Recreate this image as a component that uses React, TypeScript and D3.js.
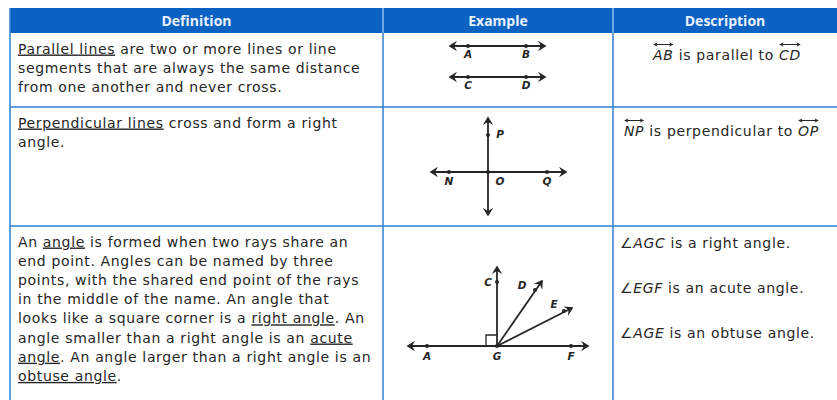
import React, { useLayoutEffect, useRef, useState } from 'react';
import * as d3 from 'd3';

// column headings and their boundaries
const headers = ['Definition', 'Example', 'Description'];
const colEdges = [10, 383, 613, 837];
const rowEdges = [8, 33, 107, 226, 400];

// definition text, one entry per line; [text, underlined] pieces
type Piece = [string, boolean];
const defRow1: Piece[][] = [
  [['Parallel lines', true], [' are two or more lines or line', false]],
  [['segments that are always the same distance', false]],
  [['from one another and never cross.', false]],
];
const defRow2: Piece[][] = [
  [['Perpendicular lines', true], [' cross and form a right', false]],
  [['angle.', false]],
];
const defRow3: Piece[][] = [
  [['An ', false], ['angle', true], [' is formed when two rays share an', false]],
  [['end point. Angles can be named by three', false]],
  [['points, with the shared end point of the rays', false]],
  [['in the middle of the name. An angle that', false]],
  [['looks like a square corner is a ', false], ['right angle', true], ['. An', false]],
  [['angle smaller than a right angle is an ', false], ['acute ', true]],
  [['angle', true], ['. An angle larger than a right angle is an', false]],
  [['obtuse angle', true], ['.', false]],
];
const definitions = [defRow1, defRow2, defRow3];

// descriptions: [text, italic, over-arrow]
type Part = [string, boolean, boolean];
const descRow1: Part[] = [['AB', true, true], [' is parallel to ', false, false], ['CD', true, true]];
const descRow2: Part[] = [['NP', true, true], [' is perpendicular to ', false, false], ['OP', true, true]];
const descRow3: Part[][] = [
  [['\u2220AGC', true, false], [' is a right angle.', false, false]],
  [['\u2220EGF', true, false], [' is an acute angle.', false, false]],
  [['\u2220AGE', true, false], [' is an obtuse angle.', false, false]],
];

// diagram geometry in diagram units (one unit = one pixel)
const parallelLines = [
  { y: 0, pts: [['A', 18], ['B', 76]] },
  { y: 31, pts: [['C', 18], ['D', 76]] },
];
const perpPoints: [string, number, number][] = [['N', -39, 0], ['O', 0, 0], ['Q', 59, 0], ['P', 0, -37]];
const anglePoints: [string, number, number][] = [
  ['A', -70, 0], ['G', 0, 0], ['F', 74, 0], ['C', 0, -64], ['D', 38, -56], ['E', 67, -35],
];

const blue = '#0b62c2';
const lineBlue = '#2f7fd0';
const ink = '#262626';
const bodyFont = '"DejaVu Sans", sans-serif';
const bodySize = 14;
const bodySpacing = 0.65;
const labelFont = '"DejaVu Sans", sans-serif';

function Arrow({ x1, y1, x2, y2, both = true }: any) {
  return (
    <line x1={x1} y1={y1} x2={x2} y2={y2} stroke={ink} strokeWidth={1.8}
      markerEnd="url(#head)" markerStart={both ? 'url(#headStart)' : undefined} />
  );
}

function Dot({ x, y }: any) {
  return <circle cx={x} cy={y} r={2} fill={ink} />;
}

function Label({ x, y, t }: any) {
  return (
    <text x={x} y={y} fontFamily={labelFont} fontStyle="italic" fontSize={10.5}
      fontWeight="bold" fill={ink} textAnchor="middle">{t}</text>
  );
}

// one line of description text; draws a double arrow over flagged parts
function DescLine({ x, y, anchor = 'start', parts }: { x: number; y: number; anchor?: string; parts: Part[] }) {
  const ref = useRef<SVGTextElement>(null);
  const [overs, setOvers] = useState<[number, number][]>([]);
  useLayoutEffect(() => {
    const el = ref.current;
    if (!el) return;
    const out: [number, number][] = [];
    let idx = 0;
    parts.forEach(([t, , over]) => {
      if (over) {
        const s = el.getStartPositionOfChar(idx).x;
        const e = el.getEndPositionOfChar(idx + t.length - 1).x;
        out.push([s, e]);
      }
      idx += t.length;
    });
    setOvers(out);
  }, []);
  return (
    <g>
      <text ref={ref} x={x} y={y} textAnchor={anchor} fontFamily={bodyFont} fontSize={bodySize}
        letterSpacing={bodySpacing} fill={ink}>
        {parts.map(([t, it], k) => (
          <tspan key={k} fontStyle={it ? 'italic' : undefined}>{t}</tspan>
        ))}
      </text>
      {overs.map(([s, e], k) => (
        <line key={k} x1={s + 1} x2={e - 1} y1={y - 15.5} y2={y - 15.5} stroke={ink} strokeWidth={1}
          markerEnd="url(#small)" markerStart="url(#smallStart)" />
      ))}
    </g>
  );
}

export default function App() {
  const rowY = d3.scaleOrdinal<number, number>().domain([0, 1, 2]).range([rowEdges[1], rowEdges[2], rowEdges[3]]);
  const lineH = 19.2;

  // diagram placements
  const px = d3.scaleLinear().domain([0, 1]).range([450, 451]);
  const py = d3.scaleLinear().domain([0, 1]).range([46, 47]);
  const qx = d3.scaleLinear().domain([0, 1]).range([488, 489]);
  const qy = d3.scaleLinear().domain([0, 1]).range([172, 173]);
  const ax = d3.scaleLinear().domain([0, 1]).range([497, 498]);
  const ay = d3.scaleLinear().domain([0, 1]).range([346, 347]);

  const headMarker = (id: string, orient: string, big: boolean) => (
    <marker id={id} viewBox={big ? '-10 -6 12 12' : '-6 -4 8 8'} refX={0} refY={0}
      markerWidth={big ? 12 : 7} markerHeight={big ? 12 : 7} markerUnits="userSpaceOnUse" orient={orient}>
      <path d={big ? 'M1.5,0 L-7,-5.2 L-4,0 L-7,5.2 Z' : 'M1,0 L-4,-2.5 L-2.5,0 L-4,2.5 Z'} fill={ink} />
    </marker>
  );

  return (
    <svg width={837} height={400} style={{ position: 'absolute', left: 0, top: 0, background: '#fff' }}>
      <defs>
        {headMarker('head', 'auto', true)}
        {headMarker('headStart', 'auto-start-reverse', true)}
        {headMarker('small', 'auto', false)}
        {headMarker('smallStart', 'auto-start-reverse', false)}
      </defs>

      {/* header band */}
      <rect x={colEdges[0]} y={rowEdges[0]} width={colEdges[3] - colEdges[0]} height={rowEdges[1] - rowEdges[0]} fill={blue} />
      {headers.map((h, i) => (
        <text key={h} x={(colEdges[i] + colEdges[i + 1]) / 2} y={(rowEdges[0] + rowEdges[1]) / 2 + 5}
          textAnchor="middle" fontFamily='"Open Sans", sans-serif' fontWeight={700} fontSize={14} fill="#e8f1ff">{h}</text>
      ))}

      {/* grid lines */}
      {colEdges.slice(0, 3).map((x, i) => (
        <line key={'c' + i} x1={x} x2={x} y1={rowEdges[i === 0 ? 0 : 1]} y2={400} stroke={lineBlue} strokeWidth={1.5} />
      ))}
      {colEdges.slice(1, 3).map((x, i) => (
        <line key={'h' + i} x1={x} x2={x} y1={rowEdges[0]} y2={rowEdges[1]} stroke="#b9d6f5" strokeWidth={1.2} />
      ))}
      {rowEdges.slice(2, 4).map((y, i) => (
        <line key={'r' + i} x1={colEdges[0]} x2={837} y1={y} y2={y} stroke={lineBlue} strokeWidth={1.5} />
      ))}

      {/* definitions */}
      {definitions.map((rows, r) => (
        <g key={'d' + r}>
          {rows.map((pieces, li) => (
            <text key={li} x={18} y={rowY(r) + 20.5 + li * lineH} fontFamily={bodyFont} fontSize={bodySize}
              letterSpacing={bodySpacing} fill={ink}>
              {pieces.map(([t, u], k) => (
                <tspan key={k} textDecoration={u ? 'underline' : undefined}>{t}</tspan>
              ))}
            </text>
          ))}
        </g>
      ))}

      {/* example 1: parallel lines */}
      {parallelLines.map((ln, i) => (
        <g key={'p' + i}>
          <Arrow x1={px(0)} y1={py(ln.y)} x2={px(95)} y2={py(ln.y)} />
          {ln.pts.map(([n, x]: any) => (
            <g key={n}>
              <Dot x={px(x)} y={py(ln.y)} />
              <Label x={px(x)} y={py(ln.y) + 12} t={n} />
            </g>
          ))}
        </g>
      ))}

      {/* example 2: perpendicular lines */}
      <Arrow x1={qx(-57)} y1={qy(0)} x2={qx(78)} y2={qy(0)} />
      <Arrow x1={qx(0)} y1={qy(43)} x2={qx(0)} y2={qy(-54)} />
      {perpPoints.map(([n, x, y]) => (
        <g key={n}>
          <Dot x={qx(x)} y={qy(y)} />
          <Label x={qx(x) + (n === 'O' || n === 'P' ? 12 : 0)} y={qy(y) + (n === 'P' ? 3 : 13)} t={n} />
        </g>
      ))}

      {/* example 3: angles */}
      <Arrow x1={ax(-89)} y1={ay(0)} x2={ax(91)} y2={ay(0)} />
      <Arrow x1={ax(0)} y1={ay(0)} x2={ax(0)} y2={ay(-79)} both={false} />
      <Arrow x1={ax(0)} y1={ay(0)} x2={ax(45)} y2={ay(-65)} both={false} />
      <Arrow x1={ax(0)} y1={ay(0)} x2={ax(75)} y2={ay(-38)} both={false} />
      <path d={`M${ax(-11)},${ay(0)} V${ay(-11)} H${ax(0)}`} fill="none" stroke={ink} strokeWidth={1.3} />
      {anglePoints.map(([n, x, y]) => <Dot key={n} x={ax(x)} y={ay(y)} />)}
      <Label x={ax(-70)} y={ay(0) + 14} t="A" />
      <Label x={ax(0)} y={ay(0) + 14} t="G" />
      <Label x={ax(74)} y={ay(0) + 14} t="F" />
      <Label x={ax(-9)} y={ay(-64) + 4} t="C" />
      <Label x={ax(25)} y={ay(-57)} t="D" />
      <Label x={ax(57)} y={ay(-38)} t="E" />

      {/* descriptions */}
      <DescLine x={727} y={60} anchor="middle" parts={descRow1} />
      <DescLine x={624} y={136} parts={descRow2} />
      {descRow3.map((parts, i) => (
        <DescLine key={i} x={620} y={248 + i * 45} parts={parts} />
      ))}
    </svg>
  );
}
